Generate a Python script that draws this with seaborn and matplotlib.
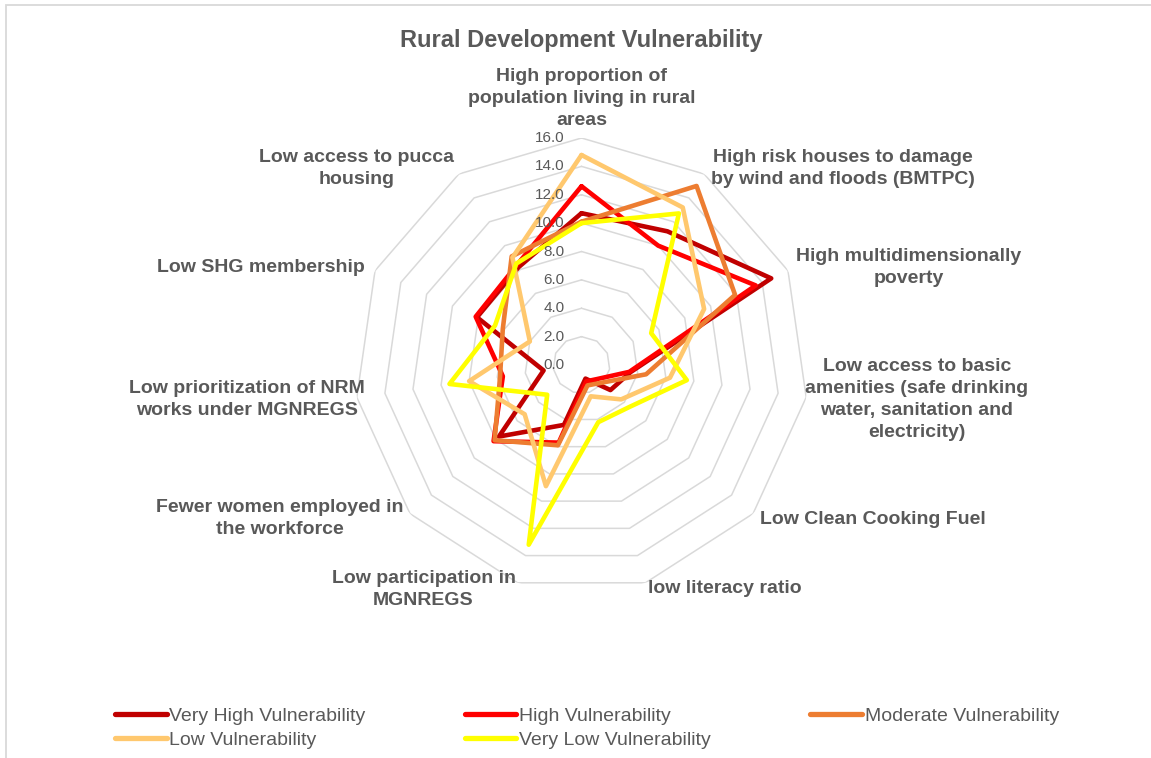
import numpy as np
import pandas as pd
import matplotlib
matplotlib.use('Agg')
import matplotlib.pyplot as plt
from matplotlib.patches import Rectangle
import seaborn as sns

# 데이터 (시계 방향, 위쪽부터)
categories = [
    'High proportion of\npopulation living in rural\nareas',
    'High risk houses to damage\nby wind and floods (BMTPC)',
    'High multidimensionally\npoverty',
    'Low access to basic\namenities (safe drinking\nwater, sanitation and\nelectricity)',
    'Low Clean Cooking Fuel',
    'low literacy ratio',
    'Low participation in\nMGNREGS',
    'Fewer women employed in\nthe workforce',
    'Low prioritization of NRM\nworks under MGNREGS',
    'Low SHG membership',
    'Low access to pucca\nhousing',
]
levels = ['Very High Vulnerability', 'High Vulnerability', 'Moderate Vulnerability',
          'Low Vulnerability', 'Very Low Vulnerability']
very_high = [10.7, 11.2, 14.7, 3.5, 2.7, 1.0, 4.4, 7.7, 2.7, 8.1, 8.2]
high = [12.6, 10.0, 13.5, 3.4, 1.5, 1.2, 5.7, 8.2, 5.6, 8.2, 8.4]
moderate = [10.1, 15.0, 11.9, 4.6, 1.9, 1.5, 5.9, 8.1, 5.8, 6.1, 9.1]
low = [14.8, 13.2, 9.5, 6.3, 3.7, 2.3, 8.9, 5.3, 8.0, 4.0, 9.0]
very_low = [10.0, 12.7, 5.4, 7.5, 4.5, 4.2, 13.2, 3.2, 9.4, 6.7, 8.5]
colors = ['#C00000', '#FF0000', '#ED7D31', '#FFC86E', '#FFFF00']
ticks = [0, 2, 4, 6, 8, 10, 12, 14, 16]

# 레이더용 long 포맷 (닫힌 다각형)
n = len(categories)
theta = np.linspace(0, 2 * np.pi, n, endpoint=False)
theta_closed = np.append(theta, 2 * np.pi)
rows = []
for name, vals in zip(levels, [very_high, high, moderate, low, very_low]):
    for t, v in zip(theta_closed, vals + vals[:1]):
        rows.append({'theta': t, 'value': v, 'level': name})
df = pd.DataFrame(rows)

sns.set_theme(style='white')
plt.rcParams['font.family'] = ['Liberation Sans', 'DejaVu Sans']
gray = '#595959'

W, H = 1151, 758
fig = plt.figure(figsize=(W / 100, H / 100), dpi=100)
cx, cy, R = 581.5, 365, 227
ax = fig.add_axes([(cx - R) / W, (H - cy - R) / H, 2 * R / W, 2 * R / H], projection='polar')
ax.set_theta_zero_location('N')
ax.set_theta_direction(-1)

# 다각형 그리드
for r in ticks[1:]:
    ax.plot(theta_closed, [r] * len(theta_closed), color='#d9d9d9', lw=1.1, zorder=0)

sns.lineplot(data=df, x='theta', y='value', hue='level', hue_order=levels,
             palette=colors, sort=False, estimator=None, linewidth=3.3, ax=ax)

ax.set_ylim(0, 16)
ax.set_xticks([])
ax.set_yticks([])
ax.grid(False)
ax.spines['polar'].set_visible(False)
ax.set_xlabel('')
ax.set_ylabel('')
ax.patch.set_alpha(0)

# 축 눈금 라벨
for r in ticks:
    ax.annotate(f'{r:.1f}', xy=(0, r), xytext=(-17, 0), textcoords='offset pixels',
                ha='right', va='center', fontsize=11, color=gray)

# 카테고리 라벨
offsets = [(0, 9), (7, 6), (8, 3), (-1, -2), (7, -6), (3, -6), (-2, -7),
           (-6, -5), (8, -2), (-10, 3), (-5, 6)]
for t, lab, (dx, dy) in zip(theta, categories, offsets):
    s = np.sin(t)
    if abs(s) < 0.1:
        ha, va = 'center', 'bottom'
    elif s > 0:
        ha, va = 'left', 'center'
    else:
        ha, va = 'right', 'center'
    ax.annotate(lab, xy=(t, 16), xytext=(dx, dy), textcoords='offset pixels',
                ha=ha, va=va, multialignment='center', fontsize=14, linespacing=1.38,
                fontweight='bold', color=gray, annotation_clip=False)

fig.text(cx / W, 1 - 40 / H, 'Rural Development Vulnerability', ha='center', va='center',
         fontsize=17, fontweight='bold', color=gray)

# 범례 (행 우선 순서)
handles, labels = ax.get_legend_handles_labels()
if ax.get_legend() is not None:
    ax.get_legend().remove()
order = [0, 3, 1, 4, 2]
leg = fig.legend([handles[i] for i in order], [labels[i] for i in order], ncol=3,
                 loc='upper left', bbox_to_anchor=(115 / W, 1 - 707 / H), frameon=False,
                 fontsize=14, handlelength=2.65, handletextpad=0.15, columnspacing=5.1,
                 labelspacing=0.35, borderpad=0, borderaxespad=0)
for txt in leg.get_texts():
    txt.set_color(gray)
for h in leg.legend_handles:
    h.set_linewidth(3.8)

fig.patches.append(Rectangle((6 / W, -0.05), 1.2, 1 - 5 / H + 0.05, transform=fig.transFigure,
                             fill=False, ec='#d9d9d9', lw=1.3))

fig.savefig('out.png', dpi=100)
